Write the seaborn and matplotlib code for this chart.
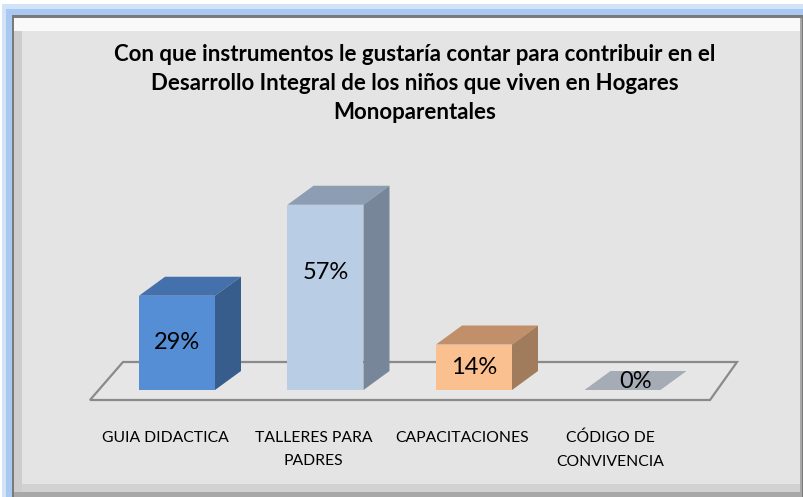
import matplotlib
matplotlib.use('Agg')
import matplotlib.pyplot as plt
import seaborn as sns
import pandas as pd
from matplotlib.patches import Polygon, Rectangle

categories = ['GUIA DIDACTICA', 'TALLERES PARA\nPADRES', 'CAPACITACIONES', 'CÓDIGO DE\nCONVIVENCIA']
values = [29, 57, 14, 0]
value_labels = ['29%', '57%', '14%', '0%']
bar_colors = ['#558ed5', '#b9cde5', '#fac090', '#a6acb6']
top_colors = ['#4470ab', '#8d9db2', '#c1906b', '#a6acb6']
side_colors = ['#375d8c', '#778799', '#a07c5c', '#a6acb6']
title = ('Con que instrumentos le gustaría contar para contribuir en el\n'
         'Desarrollo Integral de los niños que viven en Hogares\nMonoparentales')

W, H = 804, 497
X0, Y0 = 177, 390          # pixel of first bar centre / baseline
PX_CAT, PX_PCT = 148.5, 3.25
DX, DY = 26 / PX_CAT, 19 / PX_PCT   # 3d depth in data units
BAR_W = 76 / PX_CAT

sns.set_theme(style='white')
plt.rcParams['font.family'] = ['Lato', 'DejaVu Sans']

fig = plt.figure(figsize=(W / 100, H / 100), dpi=100)
fig.patch.set_facecolor('white')
ax = fig.add_axes([0, 0, 1, 1])
ax.axis('off')


def px_rect(x1, y1, x2, y2, color, z):
    ax.add_patch(Rectangle((x1 / W, 1 - y2 / H), (x2 - x1) / W, (y2 - y1) / H,
                           transform=ax.transAxes, facecolor=color, edgecolor='none', zorder=z))


# frame
px_rect(2, 4, W, H, '#d2e3f8', 0)
px_rect(6, 9, W, H, '#a9c9f2', 0.1)
px_rect(12, 15, W, H, '#7a7a7a', 0.2)
px_rect(14, 18, 802, 497, '#a8a8a8', 0.3)
px_rect(14, 18, 800, 492, '#f9f9f9', 0.4)
px_rect(14, 31, 800, 492, '#cdcdcd', 0.5)
px_rect(22, 31, 800, 484, '#e4e4e4', 0.6)
px_rect(22, 484, 800, 492, '#d2d2d2', 0.6)

# floor
fl = [(-87 / PX_CAT, -10 / PX_PCT), (533 / PX_CAT, -10 / PX_PCT),
      (560 / PX_CAT, 28 / PX_PCT), (-54 / PX_CAT, 28 / PX_PCT)]
ax.add_patch(Polygon(fl, closed=True, facecolor='#e6e6e6', edgecolor='#8a8a8a',
                     linewidth=1.6, zorder=1))

df = pd.DataFrame({'cat': categories, 'val': values})
sns.barplot(data=df, x='cat', y='val', hue='cat', palette=bar_colors, legend=False,
            width=BAR_W, saturation=1, ax=ax, zorder=3, linewidth=0)
ax.set_xlim(-X0 / PX_CAT, (W - X0) / PX_CAT)
ax.set_ylim(-(H - Y0) / PX_PCT, Y0 / PX_PCT)

for i, v in enumerate(values):
    l, r = i - BAR_W / 2, i + BAR_W / 2
    top = [(l, v), (r, v), (r + DX, v + DY), (l + DX, v + DY)]
    ax.add_patch(Polygon(top, closed=True, facecolor=top_colors[i], edgecolor='none', zorder=2.5))
    if v > 0:
        side = [(r, 0), (r + DX, DY), (r + DX, v + DY), (r, v)]
        ax.add_patch(Polygon(side, closed=True, facecolor=side_colors[i], edgecolor='none', zorder=2.5))
        # tall bars get their label raised a little, as in the original
        ax.text(i, v / 2 + max(0, v - 40) * 0.45, value_labels[i], ha='center', va='center',
                fontsize=17, color='black', zorder=5)
    else:
        ax.text(i + DX / 2, DY / 2 - 0.3, value_labels[i], ha='center', va='center', fontsize=17,
                color='black', zorder=5)
    ax.text(i - 12 / PX_CAT, -41 / PX_PCT, categories[i], ha='center', va='top', fontsize=11.3,
            linespacing=1.85, color='black', zorder=5)

fig.text(415 / W, 1 - 44 / H, title, ha='center', va='top', fontsize=16, fontweight='bold',
         linespacing=1.47, color='black')

fig.savefig('out.png', dpi=100)
